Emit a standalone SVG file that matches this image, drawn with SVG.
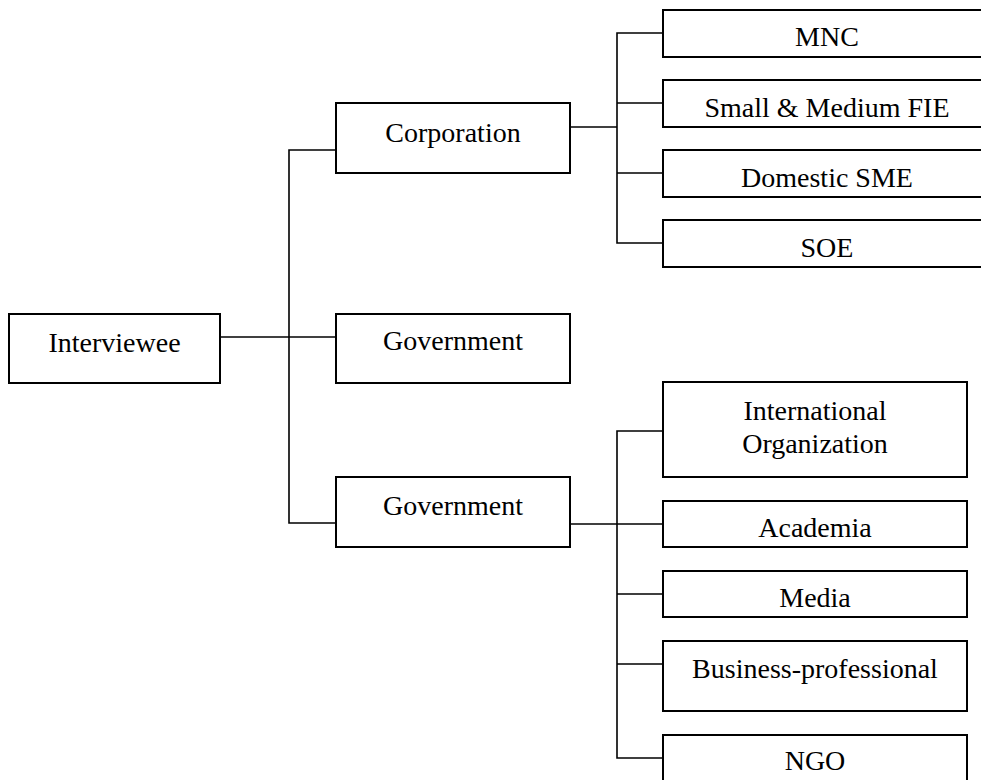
<svg xmlns="http://www.w3.org/2000/svg" width="981" height="780" viewBox="0 0 981 780">
<style>
  .box { fill: #ffffff; stroke: #000000; stroke-width: 2; }
  .lbl { font-family: "Liberation Serif", "Times New Roman", serif; font-size: 28px; fill: #000000; text-anchor: middle; }
  .conn { fill: none; stroke: #000000; stroke-width: 1.6; }
</style>
<rect x="0" y="0" width="981" height="780" fill="#ffffff"/>
<g id="connectors">
  <path class="conn" d="M220,337 H336"/>
  <path class="conn" d="M336,150 H289 V523 H336"/>
  <path class="conn" d="M570,127 H617"/>
  <path class="conn" d="M663,33 H617 V243 H663"/>
  <path class="conn" d="M617,103 H663 M617,173 H663"/>
  <path class="conn" d="M570,524 H617"/>
  <path class="conn" d="M663,431 H617 V758 H663"/>
  <path class="conn" d="M617,524 H663 M617,594 H663 M617,664 H663"/>
</g>
<g id="interviewee">
  <rect class="box" x="9" y="314" width="211" height="69"/>
  <text class="lbl" x="114.5" y="352">Interviewee</text>
</g>
<g id="corporation">
  <rect class="box" x="336" y="103" width="234" height="70"/>
  <text class="lbl" x="453" y="142">Corporation</text>
</g>
<g id="government1">
  <rect class="box" x="336" y="314" width="234" height="69"/>
  <text class="lbl" x="453" y="350">Government</text>
</g>
<g id="government2">
  <rect class="box" x="336" y="477" width="234" height="70"/>
  <text class="lbl" x="453" y="515">Government</text>
</g>
<g id="mnc">
  <rect class="box" x="663" y="10" width="330" height="47"/>
  <text class="lbl" x="827" y="46">MNC</text>
</g>
<g id="small-medium-fie">
  <rect class="box" x="663" y="80" width="330" height="47"/>
  <text class="lbl" x="827" y="117">Small &amp; Medium FIE</text>
</g>
<g id="domestic-sme">
  <rect class="box" x="663" y="150" width="330" height="47"/>
  <text class="lbl" x="827" y="187">Domestic SME</text>
</g>
<g id="soe">
  <rect class="box" x="663" y="220" width="330" height="47"/>
  <text class="lbl" x="827" y="257">SOE</text>
</g>
<g id="international-organization">
  <rect class="box" x="663" y="382" width="304" height="95"/>
  <text class="lbl" x="815" y="420">International</text>
  <text class="lbl" x="815" y="453">Organization</text>
</g>
<g id="academia">
  <rect class="box" x="663" y="501" width="304" height="46"/>
  <text class="lbl" x="815" y="537">Academia</text>
</g>
<g id="media">
  <rect class="box" x="663" y="571" width="304" height="46"/>
  <text class="lbl" x="815" y="607">Media</text>
</g>
<g id="business-professional">
  <rect class="box" x="663" y="641" width="304" height="70"/>
  <text class="lbl" x="815" y="678">Business-professional</text>
</g>
<g id="ngo">
  <rect class="box" x="663" y="735" width="304" height="70"/>
  <text class="lbl" x="815" y="770">NGO</text>
</g>
</svg>
